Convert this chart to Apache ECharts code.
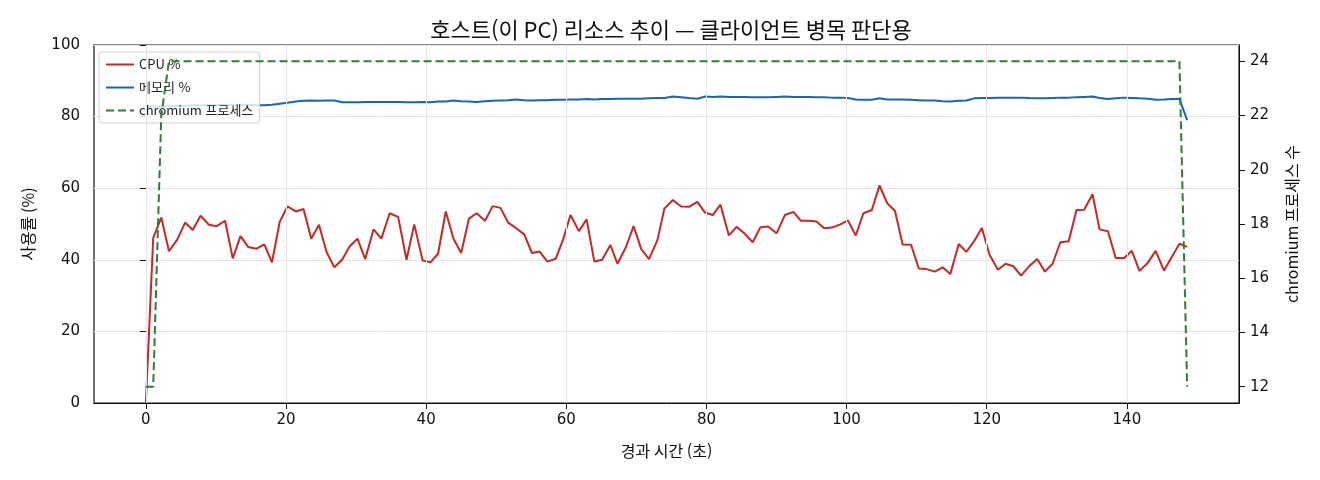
<!DOCTYPE html>
<html lang="ko">
<head>
<meta charset="UTF-8">
<title>호스트 리소스 추이</title>
<script src="https://cdn.jsdelivr.net/npm/echarts@6/dist/echarts.min.js"></script>
<style>
  html, body { margin: 0; padding: 0; background: #fff; }
  #chart { width: 1320px; height: 480px; }
</style>
</head>
<body>
<div id="chart"></div>
<script>
// 샘플 시각 (초) - 그림에서 읽은 값
var times = [
  0, 1.05, 2.2, 3.3, 4.5, 5.6, 6.7, 7.8, 9.0, 10.1, 11.3, 12.4, 13.5, 14.6, 15.8, 16.9,
  18.0, 19.1, 20.2, 21.4, 22.5, 23.6, 24.7, 25.8, 26.9, 28.0, 29.1, 30.2, 31.3, 32.5, 33.6, 34.8,
  36.0, 37.2, 38.3, 39.5, 40.6, 41.7, 42.8, 43.9, 45.0, 46.1, 47.2, 48.4, 49.5, 50.6, 51.7, 52.8,
  54.0, 55.1, 56.2, 57.3, 58.5, 59.5, 60.6, 61.8, 62.9, 64.0, 65.1, 66.3, 67.3, 68.5, 69.6, 70.7,
  71.8, 73.0, 74.0, 75.2, 76.4, 77.5, 78.7, 79.8, 80.9, 82.0, 83.2, 84.3, 85.4, 86.6, 87.7, 88.8,
  90.0, 91.2, 92.4, 93.5, 94.6, 95.7, 96.8, 97.9, 99.1, 100.2, 101.3, 102.4, 103.6, 104.7, 105.8, 106.9,
  108.0, 109.2, 110.3, 111.4, 112.6, 113.7, 114.8, 116.0, 117.1, 118.2, 119.3, 120.4, 121.6, 122.7, 123.8, 124.9,
  126.0, 127.2, 128.3, 129.4, 130.5, 131.7, 132.8, 133.9, 135.1, 136.1, 137.3, 138.4, 139.6, 140.7, 141.8, 143.0,
  144.1, 145.3, 146.4, 147.5, 148.6
];

var cpuPct = [
  0, 46.1, 51.8, 42.4, 45.7, 50.4, 48.3, 52.3, 49.8, 49.4, 50.9, 40.4, 46.6, 43.6, 43.1, 44.3,
  39.3, 50.6, 54.9, 53.5, 54.2, 45.9, 49.8, 42.1, 37.9, 40.0, 43.8, 45.9, 40.2, 48.5, 45.9, 53.0,
  52.0, 40.0, 49.9, 39.8, 39.3, 41.7, 53.5, 45.9, 41.9, 51.5, 53.0, 50.9, 55.0, 54.5, 50.4, 48.9,
  47.1, 41.9, 42.3, 39.5, 40.3, 45.4, 52.5, 48.0, 51.3, 39.5, 40.0, 44.1, 38.9, 43.5, 49.4, 43.0,
  40.2, 45.5, 54.3, 56.7, 54.9, 54.8, 56.2, 53.2, 52.5, 55.4, 46.8, 49.2, 47.4, 44.9, 49.1, 49.3,
  47.4, 52.5, 53.4, 50.9, 50.9, 50.7, 48.8, 49.0, 49.9, 51.0, 46.8, 53.0, 53.9, 60.8, 55.8, 53.7,
  44.3, 44.2, 37.6, 37.4, 36.7, 37.9, 36.0, 44.4, 42.2, 45.2, 48.9, 41.4, 37.2, 38.9, 38.2, 35.6,
  38.1, 40.2, 36.7, 38.9, 44.9, 45.2, 53.9, 54.0, 58.3, 48.5, 48.0, 40.5, 40.5, 42.5, 36.9, 39.2,
  42.5, 37.0, 40.8, 44.5, 43.6
];

var memPct = [
  82.8, 82.8, 82.8, 82.9, 83.0, 83.0, 83.2, 83.2, 83.2, 83.2, 83.3, 83.2, 83.3, 83.3, 83.2, 83.2,
  83.3, 83.6, 83.9, 84.2, 84.4, 84.5, 84.4, 84.5, 84.5, 84.0, 84.0, 84.0, 84.1, 84.1, 84.1, 84.1,
  84.1, 84.0, 84.0, 84.1, 84.0, 84.2, 84.2, 84.5, 84.3, 84.2, 84.1, 84.3, 84.4, 84.5, 84.6, 84.8,
  84.6, 84.5, 84.6, 84.6, 84.7, 84.7, 84.8, 84.8, 84.9, 84.8, 84.9, 84.9, 85.0, 85.0, 85.0, 85.0,
  85.1, 85.2, 85.2, 85.6, 85.4, 85.2, 85.0, 85.6, 85.5, 85.6, 85.5, 85.5, 85.5, 85.4, 85.4, 85.4,
  85.5, 85.6, 85.5, 85.5, 85.5, 85.4, 85.4, 85.3, 85.3, 85.2, 84.8, 84.7, 84.7, 85.1, 84.8, 84.8,
  84.8, 84.7, 84.6, 84.5, 84.5, 84.3, 84.2, 84.4, 84.5, 85.1, 85.2, 85.2, 85.3, 85.3, 85.3, 85.3,
  85.2, 85.1, 85.1, 85.2, 85.3, 85.3, 85.4, 85.5, 85.6, 85.2, 84.9, 85.1, 85.3, 85.2, 85.1, 85.0,
  84.7, 84.8, 84.9, 84.9, 79.0
];

var chromiumProcs = [
  12, 12, 22, 24, 24, 24, 24, 24, 24, 24, 24, 24, 24, 24, 24, 24,
  24, 24, 24, 24, 24, 24, 24, 24, 24, 24, 24, 24, 24, 24, 24, 24,
  24, 24, 24, 24, 24, 24, 24, 24, 24, 24, 24, 24, 24, 24, 24, 24,
  24, 24, 24, 24, 24, 24, 24, 24, 24, 24, 24, 24, 24, 24, 24, 24,
  24, 24, 24, 24, 24, 24, 24, 24, 24, 24, 24, 24, 24, 24, 24, 24,
  24, 24, 24, 24, 24, 24, 24, 24, 24, 24, 24, 24, 24, 24, 24, 24,
  24, 24, 24, 24, 24, 24, 24, 24, 24, 24, 24, 24, 24, 24, 24, 24,
  24, 24, 24, 24, 24, 24, 24, 24, 24, 24, 24, 24, 24, 24, 24, 24,
  24, 24, 24, 24, 12
];

var xTicks = [0, 20, 40, 60, 80, 100, 120, 140];
var rightTicks = [12, 14, 16, 18, 20, 22, 24];

function pairs(xs, ys) {
  return xs.map(function (x, i) { return [x, ys[i]]; });
}

var FONT = '"Noto Sans CJK KR", "Noto Sans", sans-serif';
var NUMFONT = '"DejaVu Sans", "Noto Sans CJK KR", sans-serif';
var gridColor = '#e5e5e5';

var chart = echarts.init(document.getElementById('chart'));
var option = {
  animation: false,
  textStyle: { fontFamily: FONT },
  title: {
    text: '호스트(이 PC) 리소스 추이 — 클라이언트 병목 판단용',
    left: 666, top: 14, textAlign: 'center',
    textStyle: { fontFamily: FONT, fontSize: 22, fontWeight: 'normal', color: '#111' }
  },
  grid: {
    left: 94, right: 81, top: 45, bottom: 77,
    show: true, borderColor: '#111', borderWidth: 1.2, backgroundColor: 'transparent'
  },
  legend: {
    orient: 'vertical', left: 99, top: 52,
    padding: [6, 7, 6, 6],
    itemWidth: 28, itemHeight: 14, itemGap: 10,
    backgroundColor: 'rgba(255,255,255,0.8)',
    borderColor: '#d0d0d0', borderWidth: 1, borderRadius: 3,
    itemStyle: { opacity: 0 },
    textStyle: { fontFamily: FONT, fontSize: 13, color: '#222' },
    data: ['CPU %', '메모리 %', 'chromium 프로세스']
  },
  xAxis: {
    type: 'value', min: -7.4, max: 156,
    name: '경과 시간 (초)', nameLocation: 'middle', nameGap: 40,
    nameTextStyle: { fontFamily: FONT, fontSize: 16, color: '#111' },
    axisLine: { show: true, lineStyle: { color: '#111' } },
    axisTick: { show: true, length: 6, customValues: xTicks, lineStyle: { color: '#111' } },
    axisLabel: { customValues: xTicks, margin: 10, fontSize: 15, color: '#111', fontFamily: NUMFONT },
    splitLine: { show: false }
  },
  yAxis: [{
    type: 'value', min: 0, max: 100, interval: 20,
    name: '사용률 (%)', nameLocation: 'middle', nameGap: 58, nameRotate: 90,
    nameTextStyle: { fontFamily: FONT, fontSize: 16, color: '#111' },
    axisLine: { show: true, lineStyle: { color: '#111' } },
    axisTick: { show: true, length: 6, lineStyle: { color: '#111' } },
    axisLabel: { margin: 14, fontSize: 15, color: '#111', fontFamily: NUMFONT },
    splitLine: { show: true, lineStyle: { color: gridColor, width: 1 } }
  }, {
    type: 'value', min: 11.4, max: 24.6, position: 'right',
    name: 'chromium 프로세스 수', nameLocation: 'middle', nameGap: 45, nameRotate: 90,
    nameTextStyle: { fontFamily: FONT, fontSize: 16, color: '#111' },
    axisLine: { show: true, lineStyle: { color: '#111' } },
    axisTick: { show: true, length: 6, customValues: rightTicks, lineStyle: { color: '#111' } },
    axisLabel: { customValues: rightTicks, margin: 11, fontSize: 15, color: '#111', fontFamily: NUMFONT },
    splitLine: { show: false }
  }],
  series: [{
    // 세로 격자선
    name: 'xgrid', type: 'line', data: [], z: 1, silent: true,
    markLine: {
      silent: true, symbol: 'none', animation: false,
      label: { show: false },
      lineStyle: { color: gridColor, width: 1, type: 'solid' },
      data: xTicks.map(function (v) { return { xAxis: v }; })
    }
  }, {
    name: 'CPU %', type: 'line', yAxisIndex: 0, z: 2,
    data: pairs(times, cpuPct),
    symbol: 'none', lineStyle: { color: '#c62828', width: 2 }, itemStyle: { color: '#c62828' }
  }, {
    name: '메모리 %', type: 'line', yAxisIndex: 0, z: 2,
    data: pairs(times, memPct),
    symbol: 'none', lineStyle: { color: '#1565c0', width: 2 }, itemStyle: { color: '#1565c0' }
  }, {
    name: 'chromium 프로세스', type: 'line', yAxisIndex: 1, z: 6,
    data: pairs(times, chromiumProcs),
    symbol: 'none', lineStyle: { color: '#2e7d32', width: 2, type: [8, 4] }, itemStyle: { color: '#2e7d32' }
  }]
};
chart.setOption(option);
</script>
</body>
</html>
